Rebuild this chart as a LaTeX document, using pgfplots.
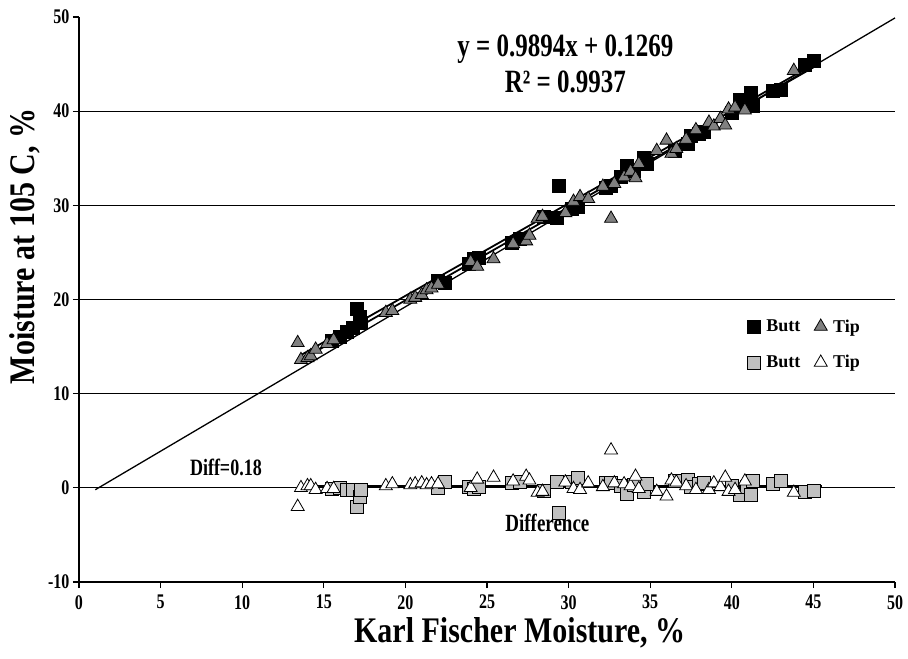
\documentclass[border=0pt]{standalone}
\usepackage{fontspec}
\setmainfont{Liberation Serif}
\usepackage{pgfplots}
\pgfplotsset{compat=1.18}

\definecolor{tipgray}{RGB}{128,128,128}
\definecolor{difgray}{RGB}{192,192,192}

\begin{document}
\begin{tikzpicture}
\begin{axis}[
    scale only axis,
    width=816pt, height=565pt,
    xmin=0, xmax=50, ymin=-10, ymax=50,
    axis x line=bottom, axis y line=left,
    axis line style={line width=1.6pt, -},
    xtick={0,5,...,50},
    ytick={-10,0,...,40},
    extra y ticks={50},
    extra tick style={grid=none},
    ymajorgrids,
    grid style={black, line width=1.2pt},
    tick align=outside,
    major tick length=6pt,
    tick style={black, line width=1.2pt},
    /pgf/number format/assume math mode=true,
    tick label style={font=\fontsize{16}{18}\selectfont\bfseries, yscale=1.3},
    xticklabel style={yshift=-2pt},
    xlabel={Karl Fischer Moisture, \%},
    ylabel={Moisture at 105 C, \%},
    every axis x label/.style={at={(axis description cs:0.54,-0.09)}, anchor=center, yscale=1.2,
        font=\fontsize{30}{34}\selectfont\bfseries},
    every axis y label/.style={at={(axis description cs:-0.066,0.594)}, anchor=center, rotate=90, yscale=1.2,
        font=\fontsize{30}{34}\selectfont\bfseries},
    legend columns=2,
    legend style={draw=none, fill=none, at={(0.815,0.472)}, anchor=north west,
        font=\fontsize{18}{20}\selectfont\bfseries,
        /tikz/every odd column/.append style={column sep=4pt},
        /tikz/every even column/.append style={column sep=12pt},
        row sep=18pt, cells={anchor=west}},
    legend cell align=left,
    clip=false,
]
% reference line
\addplot[black, line width=1.3pt, forget plot] coordinates {(1,-0.2) (50,49.9)};

% Butt
\addplot[only marks, mark=square*, mark size=6.5pt, mark options={fill=black, draw=black, line width=0.8pt}]
coordinates {
(15.5,15.6) (16.0,16.0) (16.4,16.6) (16.8,17.0) (17.0,19.0) (17.2,18.2) (17.3,17.5)
(22.0,22.0) (22.4,21.8) (23.9,23.8) (24.2,24.3) (24.5,24.4) (26.5,26.0) (27.0,26.4)
(28.5,28.8) (29.3,28.7) (29.4,32.1) (30.2,29.6) (30.6,29.8) (32.3,31.8) (32.6,32.1)
(33.2,33.0) (33.6,34.2) (34.0,33.7) (34.6,35.0) (34.8,34.4) (36.5,35.8) (37.3,36.5)
(37.5,37.4) (38.0,37.6) (38.3,37.8) (40.0,39.8) (40.5,41.2) (40.9,40.8) (41.2,41.9)
(41.3,40.6) (42.5,42.1) (43.0,42.3) (44.5,44.9) (45.0,45.3)
};
\addlegendentry{Butt}

% Tip
\addplot[only marks, mark=triangle*, mark size=7.5pt, mark options={fill=tipgray, draw=black, line width=0.8pt}]
coordinates {
(13.4,15.4) (13.6,13.6) (14.0,13.8) (14.2,14.0) (14.5,14.7) (15.2,15.3) (15.6,15.7)
(18.8,18.6) (19.2,18.8) (20.3,20.0) (20.6,20.2) (21.0,20.5) (21.3,21.0) (21.6,21.2)
(22.0,21.6) (24.0,24.0) (24.4,23.5) (25.4,24.3) (26.6,25.9) (27.4,26.2) (27.6,26.8)
(28.1,28.6) (28.4,28.8) (29.8,29.2) (30.3,30.4) (30.7,30.9) (31.2,30.7) (32.1,32.0)
(32.6,28.6) (32.8,32.3) (33.4,33.0) (33.8,33.6) (34.1,32.9) (34.3,34.4) (35.4,35.8)
(36.0,36.9) (36.3,35.5) (36.6,36.0) (37.2,37.0) (37.8,38.0) (38.6,38.8) (38.9,38.4)
(39.3,39.2) (39.6,38.5) (39.8,40.2) (40.2,40.4) (40.8,40.1) (43.8,44.3)
};
\addlegendentry{Tip}

% Butt difference
\addplot[only marks, mark=square*, mark size=6.5pt, mark options={fill=difgray, draw=black, line width=0.8pt}]
coordinates {
(15.5,-0.1) (16.0,0.0) (16.4,-0.2) (16.8,-0.2) (17.0,-2.0) (17.2,-1.0) (17.3,-0.2)
(22.0,0.0) (22.4,0.6) (23.9,0.1) (24.2,-0.1) (24.5,0.1) (26.5,0.5) (27.0,0.6)
(28.5,-0.3) (29.3,0.6) (29.4,-2.7) (30.2,0.6) (30.6,1.1) (32.3,0.5) (32.6,0.5)
(33.2,0.2) (33.6,-0.6) (34.0,0.3) (34.6,-0.4) (34.8,0.4) (36.5,0.7) (37.3,0.8)
(37.5,0.1) (38.0,0.4) (38.3,0.5) (40.0,0.2) (40.5,-0.7) (40.9,0.1) (41.2,-0.7)
(41.3,0.7) (42.5,0.4) (43.0,0.7) (44.5,-0.4) (45.0,-0.3)
};
\addlegendentry{Butt}

% Tip difference
\addplot[only marks, mark=triangle*, mark size=7.5pt, mark options={fill=white, draw=black, line width=0.8pt}]
coordinates {
(13.4,-2.0) (13.6,0.0) (14.0,0.2) (14.2,0.2) (14.5,-0.2) (15.2,-0.1) (15.6,-0.1)
(18.8,0.2) (19.2,0.4) (20.3,0.3) (20.6,0.4) (21.0,0.5) (21.3,0.3) (21.6,0.4)
(22.0,0.4) (24.0,0.0) (24.4,0.9) (25.4,1.1) (26.6,0.7) (27.4,1.2) (27.6,0.8)
(28.1,-0.5) (28.4,-0.4) (29.8,0.6) (30.3,-0.1) (30.7,-0.2) (31.2,0.5) (32.1,0.1)
(32.6,4.0) (32.8,0.5) (33.4,0.4) (33.8,0.2) (34.1,1.2) (34.3,-0.1) (35.4,-0.4)
(36.0,-0.9) (36.3,0.8) (36.6,0.6) (37.2,0.2) (37.8,-0.2) (38.6,-0.2) (38.9,0.5)
(39.3,0.1) (39.6,1.1) (39.8,-0.4) (40.2,-0.2) (40.8,0.7) (43.8,-0.5)
};
\addlegendentry{Tip}

% trend lines
\addplot[black, line width=1.8pt, forget plot] coordinates {(13.5,13.48) (45,44.65)};
\addplot[black, line width=1.8pt, forget plot] coordinates {(13.5,14.0) (45,44.95)};
\addplot[black, line width=2pt, forget plot] coordinates {(13.4,0.18) (45.5,0.18)};

\node[font=\fontsize{25}{28}\selectfont\bfseries, yscale=1.3] at (axis cs:29.8,46.6) {y = 0.9894x + 0.1269};
\node[font=\fontsize{25}{28}\selectfont\bfseries, yscale=1.3] at (axis cs:29.8,43.1) {R² = 0.9937};
\node[font=\fontsize{18}{20}\selectfont\bfseries, yscale=1.3] at (axis cs:9.0,2.2) {Diff=0.18};
\node[font=\fontsize{19}{21}\selectfont\bfseries, yscale=1.3] at (axis cs:28.7,-3.7) {Difference};
\end{axis}
\pgfresetboundingbox
\path ([shift={(-79pt,-76pt)}]current axis.south west) rectangle ([shift={(13pt,17pt)}]current axis.north east);
\end{tikzpicture}
\end{document}
